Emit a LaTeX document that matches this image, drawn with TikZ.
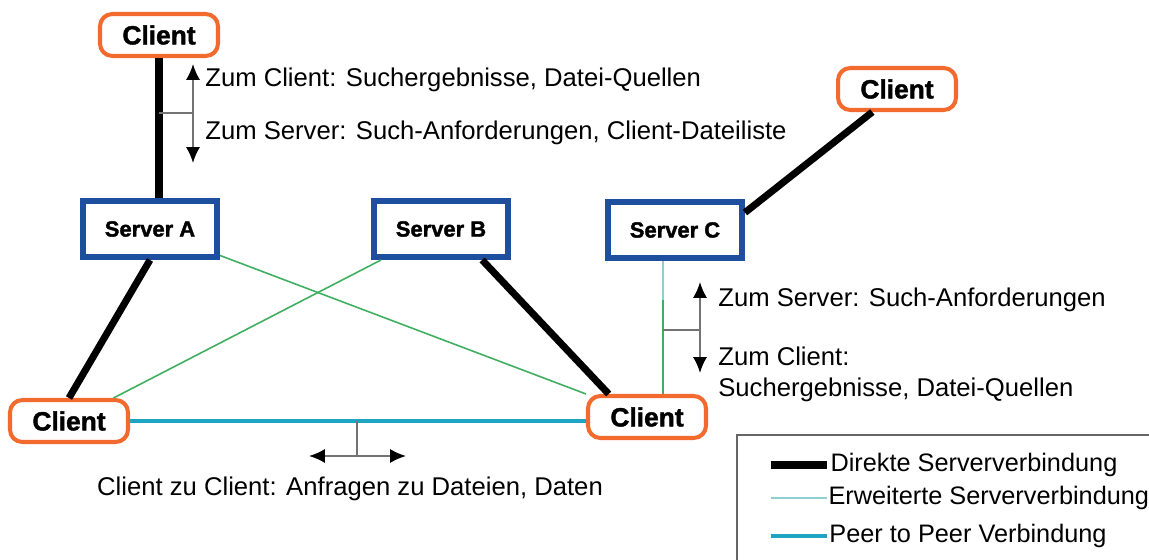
\documentclass[tikz,border=0pt]{standalone}
\usepackage{fontspec}
\setmainfont{Liberation Sans}
\newfontfamily\heavyfont[BoldFeatures={FakeBold=1.6}]{Liberation Sans}
\usetikzlibrary{arrows.meta}

\definecolor{clientorange}{HTML}{F26A2E}
\definecolor{serverblue}{HTML}{1D4F9E}
\definecolor{linkgreen}{HTML}{3FAF5F}
\definecolor{extcyan}{HTML}{8ECFCF}
\definecolor{peercyan}{HTML}{1EA5C4}

\tikzset{
	client/.style={draw=clientorange, line width=2.3pt, fill=white, rounded corners=7pt,
		minimum width=2.36cm, minimum height=0.84cm, inner sep=0pt,
		font=\heavyfont\bfseries\fontsize{15}{18}\selectfont},
	server/.style={draw=serverblue, line width=3.4pt, fill=white,
		minimum width=2.68cm, minimum height=1.12cm, inner sep=0pt,
		font=\heavyfont\bfseries\fontsize{12.5}{15}\selectfont},
	direct/.style={line width=4pt, black},
	extended/.style={line width=0.9pt, linkgreen},
	extlight/.style={line width=1.2pt, extcyan},
	peer/.style={line width=2.8pt, peercyan},
	msg/.style={line width=1.1pt, black!55, {Latex[black, length=9pt, width=8pt]}-{Latex[black, length=9pt, width=8pt]}},
	tick/.style={line width=1.1pt, black!55},
	txt/.style={font=\fontsize{14.6}{17.6}\selectfont, inner sep=0pt},
	legtxt/.style={font=\fontsize{14.4}{17}\selectfont, inner sep=0pt, anchor=west, black}
}

\begin{document}
\begin{tikzpicture}[x=0.02cm, y=-0.02cm]
	\useasboundingbox (0,0) rectangle (1149,560);

	% clients and servers
	\node[client] (cltop) at (159,35) {Client};
	\node[client] (clTR) at (897,89) {Client};
	\node[server] (srvA) at (150,229) {Server A};
	\node[server] (srvB) at (441,229) {Server B};
	\node[server] (srvC) at (675,230) {Server C};
	\node[client] (clL) at (69,421) {Client};
	\node[client] (clR) at (647,417) {Client};

	\coordinate (cjoin) at (663,300);

	% connections
	\draw[direct] (cltop) -- (cltop |- srvA.north);
	\draw[direct] (srvC.14) -- (clTR.223);
	\draw[direct] (srvA.south) -- (clL.north);
	\draw[direct] (srvB.-37) -- (clR.149);
	\draw[extended] (srvA) -- (clR);
	\draw[extended] (srvB) -- (clL);
	\draw[extlight] (srvC.south -| cjoin) -- (cjoin);
	\draw[extended] (cjoin) -- (cjoin |- clR.north);
	\draw[peer] (clL.east) -- (clL.east -| clR.west);

	% messages client <-> server A
	\coordinate (tickT) at (193,113);
	\coordinate (upT) at (193,64);
	\coordinate (downT) at (193,163);
	\draw[tick] (cltop |- tickT) -- (tickT);
	\draw[msg] (upT) -- (downT);
	\node[txt, anchor=west] (toclT) at (205,80) {Zum Client: Suchergebnisse, Datei-Quellen};
	\node[txt, anchor=west] (tosrvT) at (205,133) {Zum Server: Such-Anforderungen, Client-Dateiliste};

	% messages client <-> server C
	\coordinate (tickR) at (700,330);
	\coordinate (upR) at (700,282);
	\coordinate (downR) at (700,373);
	\draw[tick] (cjoin |- tickR) -- (tickR);
	\draw[msg] (upR) -- (downR);
	\node[txt, anchor=west] (tosrvR) at (718,300) {Zum Server: Such-Anforderungen};
	\node[txt, anchor=north west, align=left] (toclR) at (718,347) {Zum Client:\\Suchergebnisse, Datei-Quellen};

	% peer to peer
	\coordinate (tickB) at (357,456);
	\coordinate (leftB) at (309,456);
	\coordinate (rightB) at (406,456);
	\draw[tick] (tickB |- clL.east) -- (tickB);
	\draw[msg] (leftB) -- (rightB);
	\node[txt] (peertxt) at (350,489) {Client zu Client: Anfragen zu Dateien, Daten};

	% legend
	\draw[line width=1.1pt, black!60] (737,570) -- (737,435) -- (1160,435);
	\draw[direct] (771,465) -- (827,465) node[legtxt] {Direkte Serververbindung};
	\draw[extlight, line width=1.7pt] (771,498) -- (827,498) node[legtxt] {Erweiterte Serververbindung};
	\draw[peer] (771,536) -- (827,536) node[legtxt] {Peer to Peer Verbindung};
\end{tikzpicture}
\end{document}
